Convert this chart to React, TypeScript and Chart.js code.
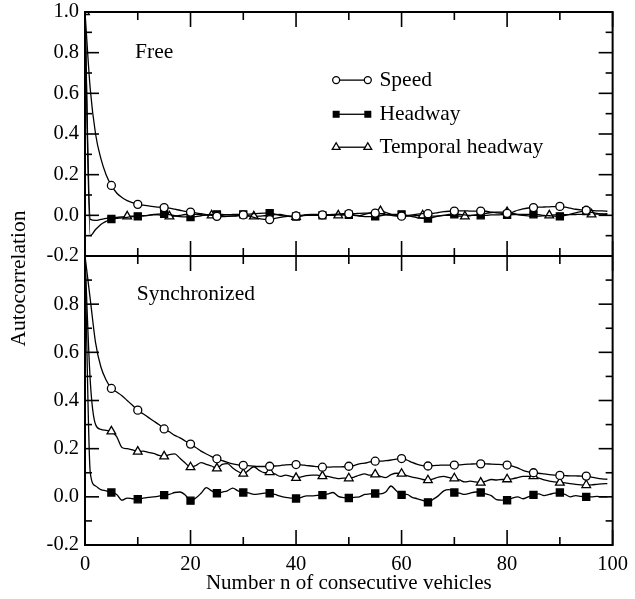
import React, { useEffect, useRef } from "react";
import { Chart, registerables } from "chart.js";

Chart.register(...registerables);

// ---- data ----
const LAGS = [
  0, 1, 2, 3, 4, 5, 6, 7, 8, 9, 10, 11, 12, 13, 14, 15, 16, 17, 18, 19,
  20, 21, 22, 23, 24, 25, 26, 27, 28, 29, 30, 31, 32, 33, 34, 35, 36, 37, 38, 39,
  40, 41, 42, 43, 44, 45, 46, 47, 48, 49, 50, 51, 52, 53, 54, 55, 56, 57, 58, 59,
  60, 61, 62, 63, 64, 65, 66, 67, 68, 69, 70, 71, 72, 73, 74, 75, 76, 77, 78, 79,
  80, 81, 82, 83, 84, 85, 86, 87, 88, 89, 90, 91, 92, 93, 94, 95, 96, 97, 98, 99,
];

const SPEED_FREE = [
  1.0, 0.62, 0.40, 0.28, 0.20, 0.147, 0.11, 0.088, 0.072, 0.062,
  0.054, 0.05, 0.046, 0.043, 0.04, 0.038, 0.035, 0.03, 0.025, 0.02,
  0.016, 0.012, 0.008, 0.004, 0.0, -0.005, -0.006, -0.005, -0.003, 0.0,
  0.002, -0.002, -0.01, -0.016, -0.02, -0.021, -0.015, -0.01, -0.006, -0.004,
  -0.003, 0.0, 0.002, 0.003, 0.002, 0.002, 0.003, 0.004, 0.006, 0.008,
  0.008, 0.008, 0.01, 0.011, 0.011, 0.011, 0.008, 0.004, 0.0, -0.003,
  -0.004, -0.002, 0.002, 0.006, 0.008, 0.008, 0.01, 0.014, 0.018, 0.02,
  0.021, 0.022, 0.022, 0.021, 0.021, 0.021, 0.02, 0.016, 0.012, 0.01,
  0.01, 0.015, 0.025, 0.032, 0.036, 0.038, 0.04, 0.041, 0.042, 0.043,
  0.044, 0.04, 0.035, 0.03, 0.027, 0.025, 0.024, 0.022, 0.022, 0.02,
];

const HEADWAY_FREE = [
  1.0, -0.1, -0.07, -0.045, -0.03, -0.018, -0.015, -0.012, -0.01, -0.006,
  -0.005, -0.003, 0.0, 0.004, 0.006, 0.008, 0.004, -0.002, -0.006, -0.008,
  -0.008, -0.006, -0.002, 0.002, 0.004, 0.005, 0.004, 0.003, 0.004, 0.005,
  0.005, 0.006, 0.008, 0.01, 0.011, 0.011, 0.006, 0.0, -0.004, -0.006,
  -0.006, -0.003, 0.0, 0.0, 0.0, 0.0, 0.0, 0.001, 0.002, 0.003,
  0.003, 0.0, -0.004, -0.006, -0.006, -0.005, -0.002, 0.002, 0.004, 0.005,
  0.005, 0.0, -0.006, -0.012, -0.015, -0.016, -0.01, -0.004, 0.0, 0.004,
  0.005, 0.004, 0.002, 0.0, 0.0, 0.0, 0.0, 0.002, 0.002, 0.003,
  0.003, 0.004, 0.004, 0.005, 0.005, 0.005, 0.003, 0.0, -0.002, -0.004,
  -0.005, 0.0, 0.006, 0.012, 0.018, 0.021, 0.015, 0.01, 0.006, 0.004,
];

const TEMPORAL_FREE = [
  1.0, -0.02, -0.025, -0.02, -0.015, -0.012, -0.01, -0.008, -0.005, -0.004,
  -0.004, -0.002, 0.0, 0.003, 0.002, -0.002, -0.005, -0.004, 0.0, 0.004,
  0.006, 0.005, 0.003, 0.001, 0.0, 0.0, -0.002, -0.004, -0.004, -0.003,
  -0.002, -0.004, -0.005, -0.004, -0.002, 0.0, 0.003, 0.004, 0.0, -0.005,
  -0.008, -0.003, 0.003, 0.005, 0.004, 0.002, 0.0, 0.0, 0.0, 0.002,
  0.003, 0.002, -0.002, 0.005, 0.012, 0.018, 0.021, 0.015, 0.005, -0.002,
  -0.005, -0.004, -0.003, -0.001, 0.0, -0.002, -0.004, -0.003, 0.0, 0.0,
  -0.002, -0.004, -0.005, -0.002, 0.002, 0.006, 0.01, 0.014, 0.016, 0.016,
  0.016, 0.01, 0.004, 0.0, -0.003, -0.005, -0.004, -0.002, 0.0, 0.002,
  0.003, 0.003, 0.003, 0.004, 0.005, 0.005, 0.005, 0.006, 0.007, 0.008,
];

const SPEED_SYNC = [
  1.0, 0.82, 0.64, 0.54, 0.485, 0.45, 0.435, 0.42, 0.40, 0.38,
  0.36, 0.345, 0.33, 0.315, 0.30, 0.282, 0.27, 0.255, 0.245, 0.232,
  0.219, 0.205, 0.19, 0.178, 0.167, 0.158, 0.15, 0.143, 0.137, 0.133,
  0.131, 0.13, 0.127, 0.126, 0.126, 0.127, 0.128, 0.13, 0.133, 0.134,
  0.134, 0.133, 0.13, 0.128, 0.125, 0.123, 0.123, 0.124, 0.124, 0.125,
  0.127, 0.13, 0.137, 0.14, 0.145, 0.148, 0.148, 0.15, 0.153, 0.157,
  0.159, 0.153, 0.143, 0.135, 0.13, 0.128, 0.13, 0.131, 0.132, 0.132,
  0.132, 0.133, 0.135, 0.136, 0.137, 0.137, 0.137, 0.136, 0.135, 0.134,
  0.132, 0.128, 0.12, 0.11, 0.104, 0.1, 0.098, 0.095, 0.092, 0.09,
  0.089, 0.088, 0.087, 0.087, 0.086, 0.086, 0.082, 0.078, 0.075, 0.073,
];

const HEADWAY_SYNC = [
  1.0, 0.1, 0.045, 0.03, 0.025, 0.018, 0.01, -0.014, -0.005, -0.008,
  -0.01, -0.005, -0.002, 0.0, 0.003, 0.007, 0.01, 0.018, 0.02, 0.008,
  -0.016, -0.005, 0.015, 0.038, 0.025, 0.015, 0.02, 0.025, 0.036, 0.025,
  0.018, 0.016, 0.01, 0.012, 0.015, 0.015, 0.01, 0.003, -0.002, -0.005,
  -0.007, -0.002, 0.004, 0.004, 0.006, 0.007, 0.012, 0.018, 0.002, -0.003,
  -0.005, -0.002, 0.0, 0.01, 0.012, 0.014, 0.012, 0.02, 0.045, 0.025,
  0.008, 0.01, -0.002, -0.008, -0.015, -0.023, -0.01, 0.005, 0.025, 0.03,
  0.018, 0.015, 0.01, 0.015, 0.02, 0.018, 0.012, 0.005, -0.012, -0.014,
  -0.014, -0.005, 0.0, -0.008, 0.0, 0.008, 0.012, 0.005, 0.01, 0.015,
  0.018, 0.01, 0.0, 0.005, 0.002, 0.0, 0.0, 0.002, 0.0, 0.0,
];

const TEMPORAL_SYNC = [
  1.0, 0.48, 0.30, 0.28, 0.276, 0.272, 0.25, 0.205, 0.2, 0.195,
  0.188, 0.19, 0.185, 0.18, 0.172, 0.168, 0.175, 0.178, 0.16, 0.14,
  0.123, 0.13, 0.142, 0.135, 0.128, 0.118, 0.135, 0.138, 0.12, 0.105,
  0.096, 0.11, 0.125, 0.11, 0.1, 0.103, 0.095, 0.085, 0.09, 0.085,
  0.079, 0.083, 0.088, 0.09, 0.09, 0.086, 0.085, 0.08, 0.076, 0.078,
  0.077, 0.082, 0.09, 0.095, 0.09, 0.093, 0.085, 0.08, 0.092, 0.098,
  0.096, 0.088, 0.082, 0.078, 0.072, 0.069, 0.075, 0.082, 0.085, 0.08,
  0.077, 0.07, 0.062, 0.065, 0.062, 0.059, 0.065, 0.072, 0.07, 0.072,
  0.073, 0.075, 0.08, 0.085, 0.085, 0.086, 0.078, 0.07, 0.065, 0.062,
  0.059, 0.058, 0.055, 0.052, 0.05, 0.049, 0.05, 0.052, 0.054, 0.055,
];

const SERIES_LABELS = ["Speed", "Headway", "Temporal headway"];
const PANEL_LABELS = ["Free", "Synchronized"];
const X_TITLE = "Number n of consecutive vehicles";
const Y_TITLE = "Autocorrelation";

const FONT = "'Liberation Serif', 'Times New Roman', Times, serif";

const pts = (ys: number[]) => LAGS.map((x, i) => ({ x, y: ys[i] }));

export default function App() {
  const ref = useRef<HTMLCanvasElement | null>(null);

  useEffect(() => {
    const canvas = ref.current;
    if (!canvas) return;

    const R_CIRCLE = 4;
    const R_RECT = 5;
    const R_TRI = 5;

    const every = (step: number, withZero: boolean, r: number) => (c: any) => {
      const n = LAGS[c.dataIndex];
      if (n === undefined) return 0;
      if (n === 0) return withZero ? r : 0;
      return n % step === 0 ? r : 0;
    };

    const base = {
      borderColor: "#000",
      borderWidth: 1.3,
      pointBorderColor: "#000",
      pointBorderWidth: 1.3,
      cubicInterpolationMode: "monotone" as const,
      fill: false,
    };

    const framePlugin = {
      id: "frame",
      afterDraw(chart: any) {
        const { ctx, chartArea: ca, scales } = chart;
        const xs = scales.x;
        const yt = scales.yTop;
        const yb = scales.yBot;
        const mid = yt.bottom;
        const line = (x1: number, y1: number, x2: number, y2: number) => {
          ctx.beginPath();
          ctx.moveTo(x1, y1);
          ctx.lineTo(x2, y2);
          ctx.stroke();
        };
        ctx.save();
        ctx.strokeStyle = "#000";
        ctx.lineWidth = 2;
        ctx.strokeRect(ca.left, ca.top, ca.right - ca.left, ca.bottom - ca.top);
        line(ca.left, mid, ca.right, mid);

        ctx.lineWidth = 1.6;
        // y ticks (major + minor midpoints), inward on both sides
        for (const s of [yt, yb]) {
          const vals = s.ticks.map((t: any) => t.value);
          for (let i = 0; i < vals.length; i++) {
            const p = s.getPixelForValue(vals[i]);
            line(ca.left, p, ca.left + 14, p);
            line(ca.right, p, ca.right - 14, p);
            if (i < vals.length - 1) {
              const q = s.getPixelForValue((vals[i] + vals[i + 1]) / 2);
              line(ca.left, q, ca.left + 7, q);
              line(ca.right, q, ca.right - 7, q);
            }
          }
        }
        // x ticks
        const xv = xs.ticks.map((t: any) => t.value);
        for (let i = 0; i < xv.length; i++) {
          const p = xs.getPixelForValue(xv[i]);
          line(p, ca.top, p, ca.top + 15);
          line(p, mid - 15, p, mid + 15);
          line(p, ca.bottom, p, ca.bottom - 15);
          if (i < xv.length - 1) {
            const q = xs.getPixelForValue((xv[i] + xv[i + 1]) / 2);
            line(q, ca.top, q, ca.top + 8);
            line(q, mid - 8, q, mid + 8);
            line(q, ca.bottom, q, ca.bottom - 8);
          }
        }

        // panel labels
        ctx.fillStyle = "#000";
        ctx.font = `21.5px ${FONT}`;
        ctx.textAlign = "left";
        ctx.textBaseline = "middle";
        ctx.fillText(PANEL_LABELS[0], xs.getPixelForValue(9.5), yt.getPixelForValue(0.8));
        ctx.fillText(PANEL_LABELS[1], xs.getPixelForValue(9.8), yb.getPixelForValue(0.84));

        // legend
        const rowsY = [0.665, 0.497, 0.335];
        const x1 = xs.getPixelForValue(47.6);
        const x2 = xs.getPixelForValue(53.6);
        const xt = xs.getPixelForValue(55.8);
        rowsY.forEach((v, i) => {
          const y = yt.getPixelForValue(v);
          ctx.lineWidth = 1.3;
          line(x1, y, x2, y);
          for (const x of [x1, x2]) {
            ctx.beginPath();
            if (i === 0) {
              ctx.arc(x, y, 3.5, 0, Math.PI * 2);
              ctx.fillStyle = "#fff";
              ctx.fill();
              ctx.stroke();
            } else if (i === 1) {
              ctx.fillStyle = "#000";
              ctx.fillRect(x - 3.5, y - 3.5, 7, 7);
            } else {
              const r = 4.5;
              ctx.moveTo(x, y - r);
              ctx.lineTo(x + r * 0.866, y + r / 2);
              ctx.lineTo(x - r * 0.866, y + r / 2);
              ctx.closePath();
              ctx.fillStyle = "#fff";
              ctx.fill();
              ctx.stroke();
            }
          }
          ctx.fillStyle = "#000";
          ctx.fillText(SERIES_LABELS[i], xt, y);
        });

        // y title
        ctx.font = `21.5px ${FONT}`;
        ctx.textAlign = "center";
        ctx.translate(19, (ca.top + ca.bottom) / 2);
        ctx.rotate(-Math.PI / 2);
        ctx.fillText(Y_TITLE, 0, 0);
        ctx.restore();
      },
    };

    const tickFont = { family: FONT, size: 20.5 };
    const yTickCb = (hideTop: boolean) => (v: any) => {
      const r = Math.round(Number(v) * 10) / 10;
      if (hideTop && r >= 1) return "";
      return (r === 0 ? 0 : r).toFixed(1);
    };
    const yFit = (s: any) => {
      s.width = 85;
      s.paddingTop = 0;
      s.paddingBottom = 0;
    };

    const chart = new Chart(canvas, {
      type: "line",
      data: {
        datasets: [
          { ...base, label: SERIES_LABELS[0], data: pts(SPEED_FREE), yAxisID: "yTop", pointStyle: "circle", pointBackgroundColor: "#fff", pointRadius: every(5, false, R_CIRCLE) },
          { ...base, label: SERIES_LABELS[1], data: pts(HEADWAY_FREE), yAxisID: "yTop", pointStyle: "rect", pointBackgroundColor: "#000", pointRadius: every(5, false, R_RECT) },
          { ...base, label: SERIES_LABELS[2], data: pts(TEMPORAL_FREE), yAxisID: "yTop", pointStyle: "triangle", pointBackgroundColor: "#fff", pointRadius: every(8, true, R_TRI) },
          { ...base, label: SERIES_LABELS[0], data: pts(SPEED_SYNC), yAxisID: "yBot", pointStyle: "circle", pointBackgroundColor: "#fff", pointRadius: every(5, false, R_CIRCLE) },
          { ...base, label: SERIES_LABELS[1], data: pts(HEADWAY_SYNC), yAxisID: "yBot", pointStyle: "rect", pointBackgroundColor: "#000", pointRadius: every(5, false, R_RECT) },
          { ...base, label: SERIES_LABELS[2], data: pts(TEMPORAL_SYNC), yAxisID: "yBot", pointStyle: "triangle", pointBackgroundColor: "#fff", pointRadius: every(5, false, R_TRI) },
        ],
      },
      options: {
        responsive: false,
        animation: false,
        events: [],
        layout: { padding: { left: 0, right: 19, top: 12, bottom: 0 } },
        plugins: { legend: { display: false }, tooltip: { enabled: false } },
        scales: {
          x: {
            type: "linear",
            position: "bottom",
            min: 0,
            max: 100,
            grid: { display: false, drawTicks: false },
            border: { display: false },
            ticks: { stepSize: 20, padding: 7, maxRotation: 0, autoSkip: false, color: "#000", font: tickFont, callback: (v: any) => String(v) },
            title: { display: true, text: X_TITLE, color: "#000", font: { family: FONT, size: 21 }, padding: { top: 0, bottom: 3 } },
            afterFit: (s: any) => { s.height = 54; },
          },
          yBot: {
            type: "linear",
            position: "left",
            stack: "panels",
            stackWeight: 289,
            weight: 0,
            min: -0.2,
            max: 1.0,
            grid: { display: false, drawTicks: false },
            border: { display: false },
            ticks: { stepSize: 0.2, autoSkip: false, padding: 6, color: "#000", font: tickFont, callback: yTickCb(true) },
            afterFit: yFit,
          },
          yTop: {
            type: "linear",
            position: "left",
            stack: "panels",
            stackWeight: 244,
            weight: 1,
            min: -0.2,
            max: 1.0,
            grid: { display: false, drawTicks: false },
            border: { display: false },
            ticks: { stepSize: 0.2, autoSkip: false, padding: 6, color: "#000", font: tickFont, callback: yTickCb(false) },
            afterFit: yFit,
          },
        },
      } as any,
      plugins: [framePlugin],
    });

    return () => chart.destroy();
  }, []);

  return (
    <div style={{ position: "absolute", left: 0, top: 0, width: 635, height: 599, background: "#fff" }}>
      <canvas ref={ref} width={635} height={599} style={{ width: 635, height: 599, display: "block" }} />
    </div>
  );
}
